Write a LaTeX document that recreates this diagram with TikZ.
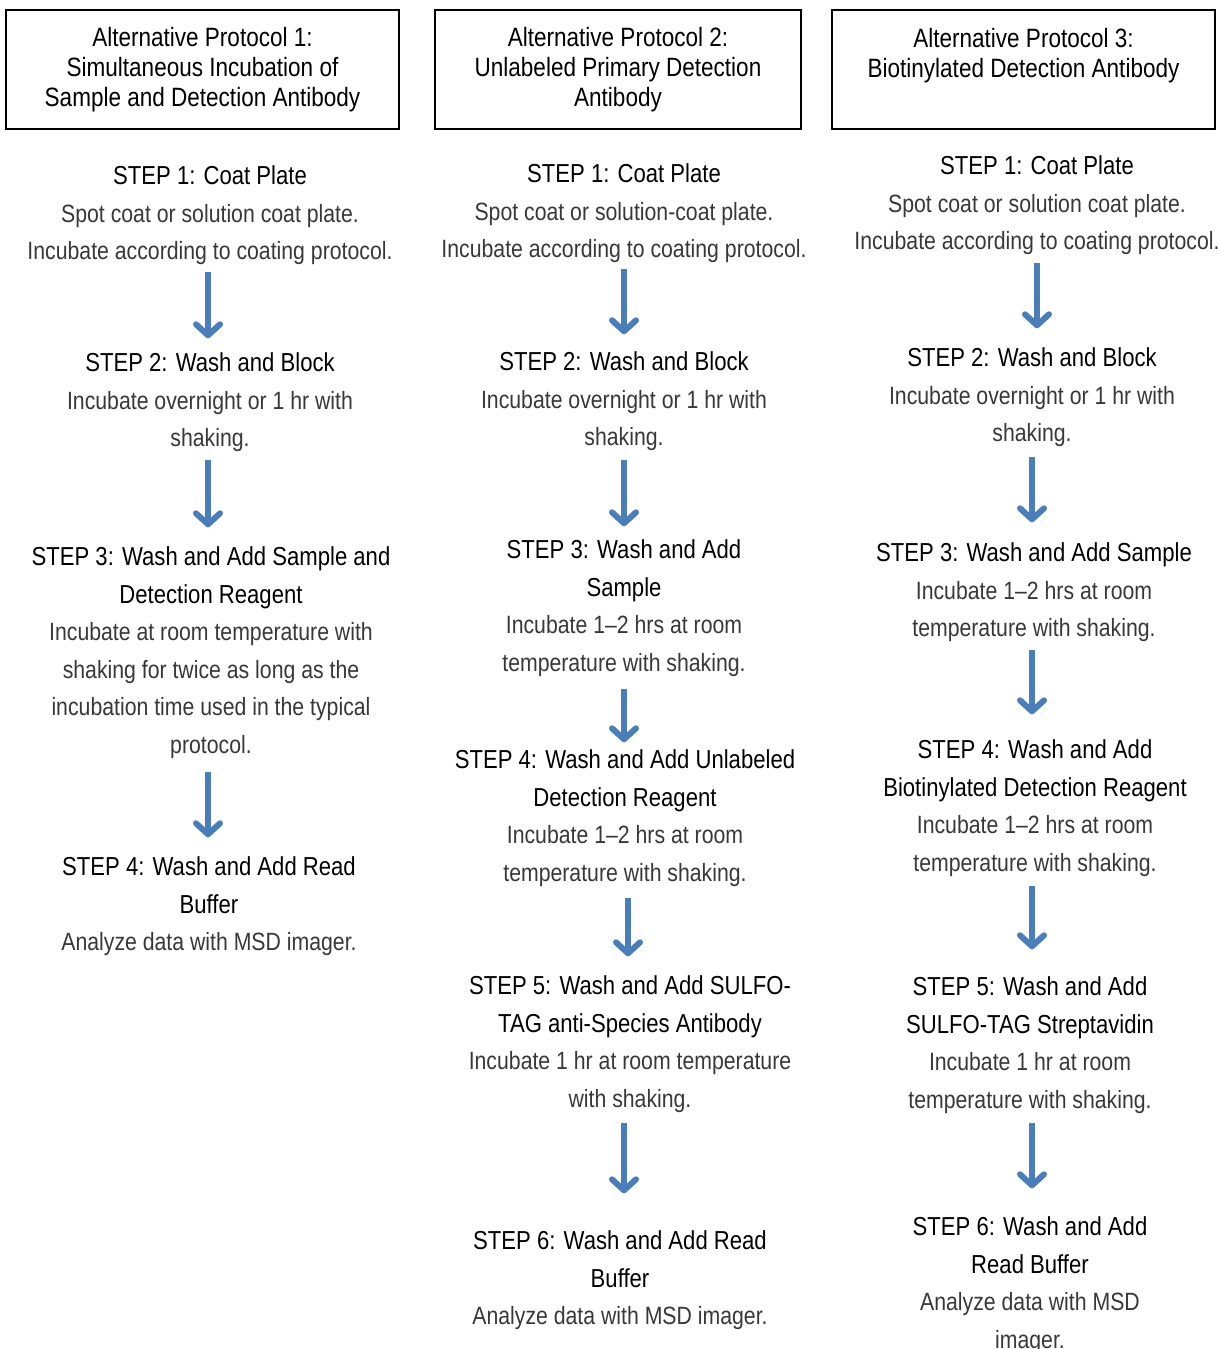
\documentclass[tikz,border=0pt]{standalone}
\usepackage{fontspec}
\setmainfont{Liberation Sans}[FakeStretch=0.85]
\usetikzlibrary{arrows.meta}
\definecolor{arrblue}{HTML}{4A7EBB}
\definecolor{bodygray}{HTML}{383838}
\newcommand{\bd}[1]{{\color{bodygray}#1}}
\newcommand{\hd}[1]{{\fontsize{26}{37.5}\selectfont #1}}
\tikzset{
  stepnode/.style={anchor=north, align=center, inner sep=0pt, text=black,
    font=\fontsize{25}{37.5}\selectfont},
  hdrbox/.style={draw=black, line width=2pt, align=center, inner sep=0pt,
    minimum height=119pt, font=\fontsize{26.5}{30}\selectfont},
  arr/.style={draw=arrblue, line width=6pt,
    -{Straight Barb[length=11pt, width=24pt, line width=6pt, round]}},
}
\begin{document}
\begin{tikzpicture}[x=1pt, y=-1pt]
\useasboundingbox (0,0) rectangle (1220,1349);
% header boxes
\node[hdrbox, minimum width=393pt] (h1) at (202.5,69.5) {Alternative Protocol 1:\\Simultaneous Incubation of\\Sample and Detection Antibody};
\node[hdrbox, minimum width=366pt] (h2) at (618,69.5) {Alternative Protocol 2:\\Unlabeled Primary Detection\\Antibody};
\node[hdrbox, minimum width=383pt] (h3) at (1023.5,69.5) {Alternative Protocol 3:\\Biotinylated Detection Antibody\\[4pt]\mbox{}};
% column 1
\node[stepnode] (c1s1) at (210,158.3) {\hd{\strut STEP 1: Coat Plate}\\\bd{Spot coat or solution coat plate.}\\\bd{Incubate according to coating protocol.\strut}};
\node[stepnode] (c1s2) at (210,345.3) {\hd{\strut STEP 2: Wash and Block}\\\bd{Incubate overnight or 1 hr with}\\\bd{shaking.\strut}};
\node[stepnode] (c1s3) at (211,539.3) {\hd{\strut STEP 3: Wash and Add Sample and}\\\hd{Detection Reagent}\\\bd{Incubate at room temperature with}\\\bd{shaking for twice as long as the}\\\bd{incubation time used in the typical}\\\bd{protocol.\strut}};
\node[stepnode] (c1s4) at (209,849.3) {\hd{\strut STEP 4: Wash and Add Read}\\\hd{Buffer}\\\bd{Analyze data with MSD imager.\strut}};
% column 2
\node[stepnode] (c2s1) at (624,156.3) {\hd{\strut STEP 1: Coat Plate}\\\bd{Spot coat or solution-coat plate.}\\\bd{Incubate according to coating protocol.\strut}};
\node[stepnode] (c2s2) at (624,344.3) {\hd{\strut STEP 2: Wash and Block}\\\bd{Incubate overnight or 1 hr with}\\\bd{shaking.\strut}};
\node[stepnode] (c2s3) at (624,532.3) {\hd{\strut STEP 3: Wash and Add}\\\hd{Sample}\\\bd{Incubate 1–2 hrs at room}\\\bd{temperature with shaking.\strut}};
\node[stepnode] (c2s4) at (625,742.3) {\hd{\strut STEP 4: Wash and Add Unlabeled}\\\hd{Detection Reagent}\\\bd{Incubate 1–2 hrs at room}\\\bd{temperature with shaking.\strut}};
\node[stepnode] (c2s5) at (630,968.3) {\hd{\strut STEP 5: Wash and Add SULFO-}\\\hd{TAG anti-Species Antibody}\\\bd{Incubate 1 hr at room temperature}\\\bd{with shaking.\strut}};
\node[stepnode] (c2s6) at (620,1223.3) {\hd{\strut STEP 6: Wash and Add Read}\\\hd{Buffer}\\\bd{Analyze data with MSD imager.\strut}};
% column 3
\node[stepnode] (c3s1) at (1037,148.3) {\hd{\strut STEP 1: Coat Plate}\\\bd{Spot coat or solution coat plate.}\\\bd{Incubate according to coating protocol.\strut}};
\node[stepnode] (c3s2) at (1032,340.3) {\hd{\strut STEP 2: Wash and Block}\\\bd{Incubate overnight or 1 hr with}\\\bd{shaking.\strut}};
\node[stepnode] (c3s3) at (1034,535.3) {\hd{\strut STEP 3: Wash and Add Sample}\\\bd{Incubate 1–2 hrs at room}\\\bd{temperature with shaking.\strut}};
\node[stepnode] (c3s4) at (1035,732.3) {\hd{\strut STEP 4: Wash and Add}\\\hd{Biotinylated Detection Reagent}\\\bd{Incubate 1–2 hrs at room}\\\bd{temperature with shaking.\strut}};
\node[stepnode] (c3s5) at (1030,969.3) {\hd{\strut STEP 5: Wash and Add}\\\hd{SULFO-TAG Streptavidin}\\\bd{Incubate 1 hr at room}\\\bd{temperature with shaking.\strut}};
\node[stepnode] (c3s6) at (1030,1209.3) {\hd{\strut STEP 6: Wash and Add}\\\hd{Read Buffer}\\\bd{Analyze data with MSD}\\\bd{imager.\strut}};
% arrows column 1
\draw[arr, shorten <=1pt, shorten >=7pt] (c1s1.south -| 208,0) -- (c1s2.north -| 208,0);
\draw[arr, shorten <=2pt, shorten >=12pt] (c1s2.south -| 208,0) -- (c1s3.north -| 208,0);
\draw[arr, shorten <=7pt, shorten >=12pt] (c1s3.south -| 208,0) -- (c1s4.north -| 208,0);
% arrows column 2
\draw[arr, shorten <=0pt, shorten >=10pt] (c2s1.south) -- (c2s2.north);
\draw[arr, shorten <=3pt, shorten >=6pt] (c2s2.south) -- (c2s3.north);
\draw[arr, shorten <=6pt, shorten >=0pt] (c2s3.south) -- (c2s4.north -| c2s3.south);
\draw[arr, shorten <=5pt, shorten >=12pt] (c2s4.south -| 628,0) -- (c2s5.north -| 628,0);
\draw[arr, shorten <=4pt, shorten >=30pt] (c2s5.south -| c2s1.south) -- (c2s6.north -| c2s1.south);
% arrows column 3
\draw[arr, shorten <=2pt, shorten >=12pt] (c3s1.south) -- (c3s2.north -| c3s1.south);
\draw[arr, shorten <=4pt, shorten >=13pt] (c3s2.south) -- (c3s3.north -| c3s2.south);
\draw[arr, shorten <=2pt, shorten >=18pt] (c3s3.south -| c3s2.south) -- (c3s4.north -| c3s2.south);
\draw[arr, shorten <=3pt, shorten >=20pt] (c3s4.south -| c3s2.south) -- (c3s5.north -| c3s2.south);
\draw[arr, shorten <=3pt, shorten >=21pt] (c3s5.south -| c3s2.south) -- (c3s6.north -| c3s2.south);
\end{tikzpicture}
\end{document}
